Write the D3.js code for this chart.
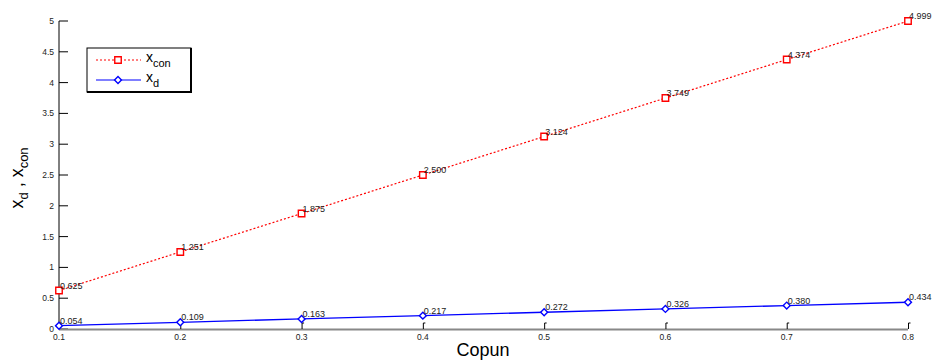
<!DOCTYPE html>
<html>
<head>
<meta charset="utf-8">
<script src="https://cdn.jsdelivr.net/npm/d3@7"></script>
<style>
  body { margin: 0; background: #fff; }
  svg { font-family: "Liberation Sans", Arial, sans-serif; }
</style>
</head>
<body>
<div id="chart"></div>
<script>
// values
const copun = [0.1, 0.2, 0.3, 0.4, 0.5, 0.6, 0.7, 0.8];
const xCon = [0.625, 1.251, 1.875, 2.500, 3.124, 3.749, 4.374, 4.999];
const xD = [0.054, 0.109, 0.163, 0.217, 0.272, 0.326, 0.380, 0.434];
const yTicks = [0, 0.5, 1, 1.5, 2, 2.5, 3, 3.5, 4, 4.5, 5];

const width = 936, height = 360;
const svg = d3.select("#chart").append("svg")
  .attr("width", width).attr("height", height);

const x = d3.scaleLinear().domain([0.1, 0.8]).range([59, 908]);
const y = d3.scaleLinear().domain([0, 5]).range([329, 21]);

// y axis (ticks pointing inward)
svg.append("line")
  .attr("x1", x(0.1)).attr("x2", x(0.1))
  .attr("y1", y(0)).attr("y2", y(5))
  .attr("stroke", "#000").attr("stroke-width", 1);
yTicks.forEach(t => {
  svg.append("line")
    .attr("x1", x(0.1)).attr("x2", x(0.1) + 9)
    .attr("y1", y(t)).attr("y2", y(t))
    .attr("stroke", "#000");
  svg.append("text")
    .attr("x", x(0.1) - 5).attr("y", y(t) + 3)
    .attr("text-anchor", "end")
    .attr("font-size", "8.5px").attr("fill", "#222")
    .text(t);
});

// x axis
svg.append("line")
  .attr("x1", x(0.1)).attr("x2", x(0.8))
  .attr("y1", y(0) + 0.5).attr("y2", y(0) + 0.5)
  .attr("stroke", "#888").attr("stroke-width", 2);
copun.forEach(t => {
  svg.append("path")
    .attr("d", `M${x(t) + 0.5},${y(0)} V${y(0) - 6} h2`)
    .attr("fill", "none").attr("stroke", "#000");
  svg.append("text")
    .attr("x", x(t)).attr("y", y(0) + 11)
    .attr("text-anchor", "middle")
    .attr("font-size", "8.5px").attr("fill", "#222")
    .text(t);
});

// axis titles
svg.append("text")
  .attr("x", 483).attr("y", 356)
  .attr("text-anchor", "middle")
  .attr("font-size", "18px")
  .text("Copun");

const yl = svg.append("text")
  .attr("transform", "translate(23,178) rotate(-90)")
  .attr("text-anchor", "middle")
  .attr("font-size", "18px");
yl.append("tspan").text("x");
yl.append("tspan").attr("dy", 5).attr("font-size", "13px").text("d");
yl.append("tspan").attr("dy", -5).text(" , x");
yl.append("tspan").attr("dy", 5).attr("font-size", "13px").text("con");

// lines
const lineOf = d3.line().x((d, i) => x(copun[i])).y(d => y(d));
svg.append("path")
  .datum(xCon)
  .attr("d", lineOf)
  .attr("fill", "none").attr("stroke", "#ff0000")
  .attr("stroke-width", 1.2).attr("stroke-dasharray", "2,2");
svg.append("path")
  .datum(xD)
  .attr("d", lineOf)
  .attr("fill", "none").attr("stroke", "#0000ff")
  .attr("stroke-width", 1.3);

const square = d3.symbol().type(d3.symbolSquare).size(42);
const diamond = d3.symbol().type(d3.symbolSquare).size(24);

function markers(vals, sym, color, rot) {
  svg.append("g").selectAll("path").data(vals).join("path")
    .attr("transform", (d, i) => `translate(${x(copun[i])},${y(d)}) rotate(${rot})`)
    .attr("d", sym)
    .attr("fill", "#fff").attr("stroke", color).attr("stroke-width", 1.4);
  svg.append("g").selectAll("text").data(vals).join("text")
    .attr("x", (d, i) => x(copun[i]) + 1)
    .attr("y", d => y(d) - 2)
    .attr("font-size", "9px").attr("fill", "#222")
    .text(d => d.toFixed(3));
}
markers(xCon, square, "#ff0000", 0);
markers(xD, diamond, "#0000ff", 45);

// legend
const lg = svg.append("g");
lg.append("rect")
  .attr("x", 87).attr("y", 48).attr("width", 104).attr("height", 44)
  .attr("fill", "#fff").attr("stroke", "#000").attr("stroke-width", 1);
lg.append("line").attr("x1", 191).attr("x2", 191).attr("y1", 48).attr("y2", 93)
  .attr("stroke", "#000").attr("stroke-width", 2);
lg.append("line").attr("x1", 87).attr("x2", 192).attr("y1", 92).attr("y2", 92)
  .attr("stroke", "#000").attr("stroke-width", 2);

const legendItems = [
  { sub: "con", color: "#ff0000", dash: "2,2", sym: square, rot: 0, y: 60 },
  { sub: "d", color: "#0000ff", dash: null, sym: diamond, rot: 45, y: 80 }
];
legendItems.forEach(it => {
  lg.append("line")
    .attr("x1", 96).attr("x2", 141).attr("y1", it.y).attr("y2", it.y)
    .attr("stroke", it.color).attr("stroke-width", 1.2)
    .attr("stroke-dasharray", it.dash);
  lg.append("path")
    .attr("transform", `translate(118,${it.y}) rotate(${it.rot})`)
    .attr("d", it.sym)
    .attr("fill", "#fff").attr("stroke", it.color).attr("stroke-width", 1.4);
  const t = lg.append("text").attr("x", 146).attr("y", it.y + 2).attr("font-size", "14px");
  t.append("tspan").text("x");
  t.append("tspan").attr("dy", 5).attr("font-size", "11px").text(it.sub);
});
</script>
</body>
</html>
